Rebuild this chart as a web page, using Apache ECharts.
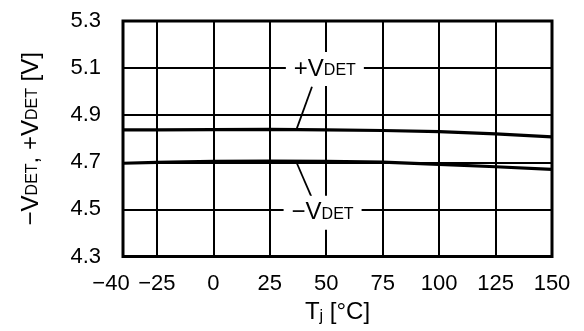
<!DOCTYPE html>
<html>
<head>
<meta charset="utf-8">
<script src="https://cdn.jsdelivr.net/npm/echarts@6/dist/echarts.min.js"></script>
<style>
  html, body { margin: 0; padding: 0; background: #fff; }
  #chart { width: 584px; height: 331px; }
</style>
</head>
<body>
<div id="chart"></div>
<script>
// junction temperature [°C] and detection voltages [V]
const tempC = [-40, -25, 0, 25, 50, 75, 100, 125, 150];
const vdetPlus = [4.838, 4.838, 4.839, 4.840, 4.838, 4.835, 4.830, 4.821, 4.808];
const vdetMinus = [4.696, 4.700, 4.704, 4.705, 4.704, 4.701, 4.691, 4.681, 4.670];

const xTicks = [-40, -25, 0, 25, 50, 75, 100, 125, 150];
const yTicks = [4.3, 4.5, 4.7, 4.9, 5.1, 5.3];

// curve labels (text + where they sit) and their leader lines
const curveNames = ['+V', '\u2212V'];
const curveLabelAt = [[49.4, 5.096], [48.4, 4.486]];
const plusLeader = [[43.7, 5.021], [37.0, 4.844]];
const minusLeader = [[37.0, 4.696], [43.7, 4.548]];

const FONT = "'Liberation Sans', Arial, sans-serif";
const minus = v => String(v).replace('-', '\u2212');

// normal text + small "subscript" that sits on the same baseline
const richText = {
  n: { fontFamily: FONT, fontSize: 24, color: '#000' },
  s: { fontFamily: FONT, fontSize: 16, color: '#000', verticalAlign: 'bottom', padding: [0, 0, 2, 0] },
  j: { fontFamily: FONT, fontSize: 16, color: '#000', verticalAlign: 'bottom' }
};

const chart = echarts.init(document.getElementById('chart'));

chart.setOption({
  animation: false,
  grid: {
    left: 123, right: 32, top: 21, bottom: 74.5,
    show: true,
    borderColor: '#000',
    borderWidth: 3,
    backgroundColor: 'transparent'
  },
  xAxis: {
    type: 'value',
    min: -40,
    max: 150,
    name: '{n|T}{j|j}{n| [°C]}',
    nameLocation: 'middle',
    nameGap: 44,
    nameTextStyle: { rich: richText },
    axisLine: { show: false },
    axisTick: { show: false, customValues: xTicks },
    axisLabel: {
      customValues: xTicks,
      margin: 16,
      fontFamily: FONT,
      fontSize: 22,
      color: '#000',
      formatter: v => v === -40 ? '{l|' + minus(v) + '}' : minus(v),
      rich: {
        l: { fontFamily: FONT, fontSize: 22, color: '#000', padding: [0, 24, 0, 0] }
      }
    },
    splitLine: { show: true, lineStyle: { color: '#000', width: 2 } }
  },
  yAxis: {
    type: 'value',
    min: 4.3,
    max: 5.3,
    name: '{n|\u2212V}{s|DET}{n|, +V}{s|DET}{n| [V]}',
    nameLocation: 'middle',
    nameRotate: 90,
    nameGap: 80,
    nameTextStyle: { rich: richText },
    axisLine: { show: false },
    axisTick: { show: false, customValues: yTicks },
    axisLabel: {
      customValues: yTicks,
      margin: 22,
      fontFamily: FONT,
      fontSize: 22,
      color: '#000',
      formatter: v => v.toFixed(1)
    },
    splitLine: { show: true, lineStyle: { color: '#000', width: 2 } }
  },
  series: [
    {
      name: '+VDET',
      type: 'line',
      data: tempC.map((t, i) => [t, vdetPlus[i]]),
      showSymbol: false,
      lineStyle: { color: '#000', width: 3.2 },
      z: 3
    },
    {
      name: '-VDET',
      type: 'line',
      data: tempC.map((t, i) => [t, vdetMinus[i]]),
      showSymbol: false,
      lineStyle: { color: '#000', width: 3.2 },
      z: 3
    },
    {
      // curve labels on white boxes that cut the grid lines
      name: 'labels',
      type: 'line',
      data: [],
      z: 4,
      markPoint: {
        silent: true,
        symbol: 'rect',
        symbolSize: [78, 34],
        itemStyle: { color: '#fff' },
        label: {
          show: true,
          position: 'inside',
          formatter: p => '{n|' + p.name + '}{s|DET}',
          rich: richText
        },
        data: curveNames.map((n, i) => ({ name: n, coord: curveLabelAt[i] }))
      },
      markLine: {
        silent: true,
        symbol: ['none', 'none'],
        label: { show: false },
        lineStyle: { color: '#000', width: 1.8, type: 'solid' },
        data: [
          [{ coord: plusLeader[0] }, { coord: plusLeader[1] }],
          [{ coord: minusLeader[0] }, { coord: minusLeader[1] }]
        ]
      }
    }
  ]
});
</script>
</body>
</html>
